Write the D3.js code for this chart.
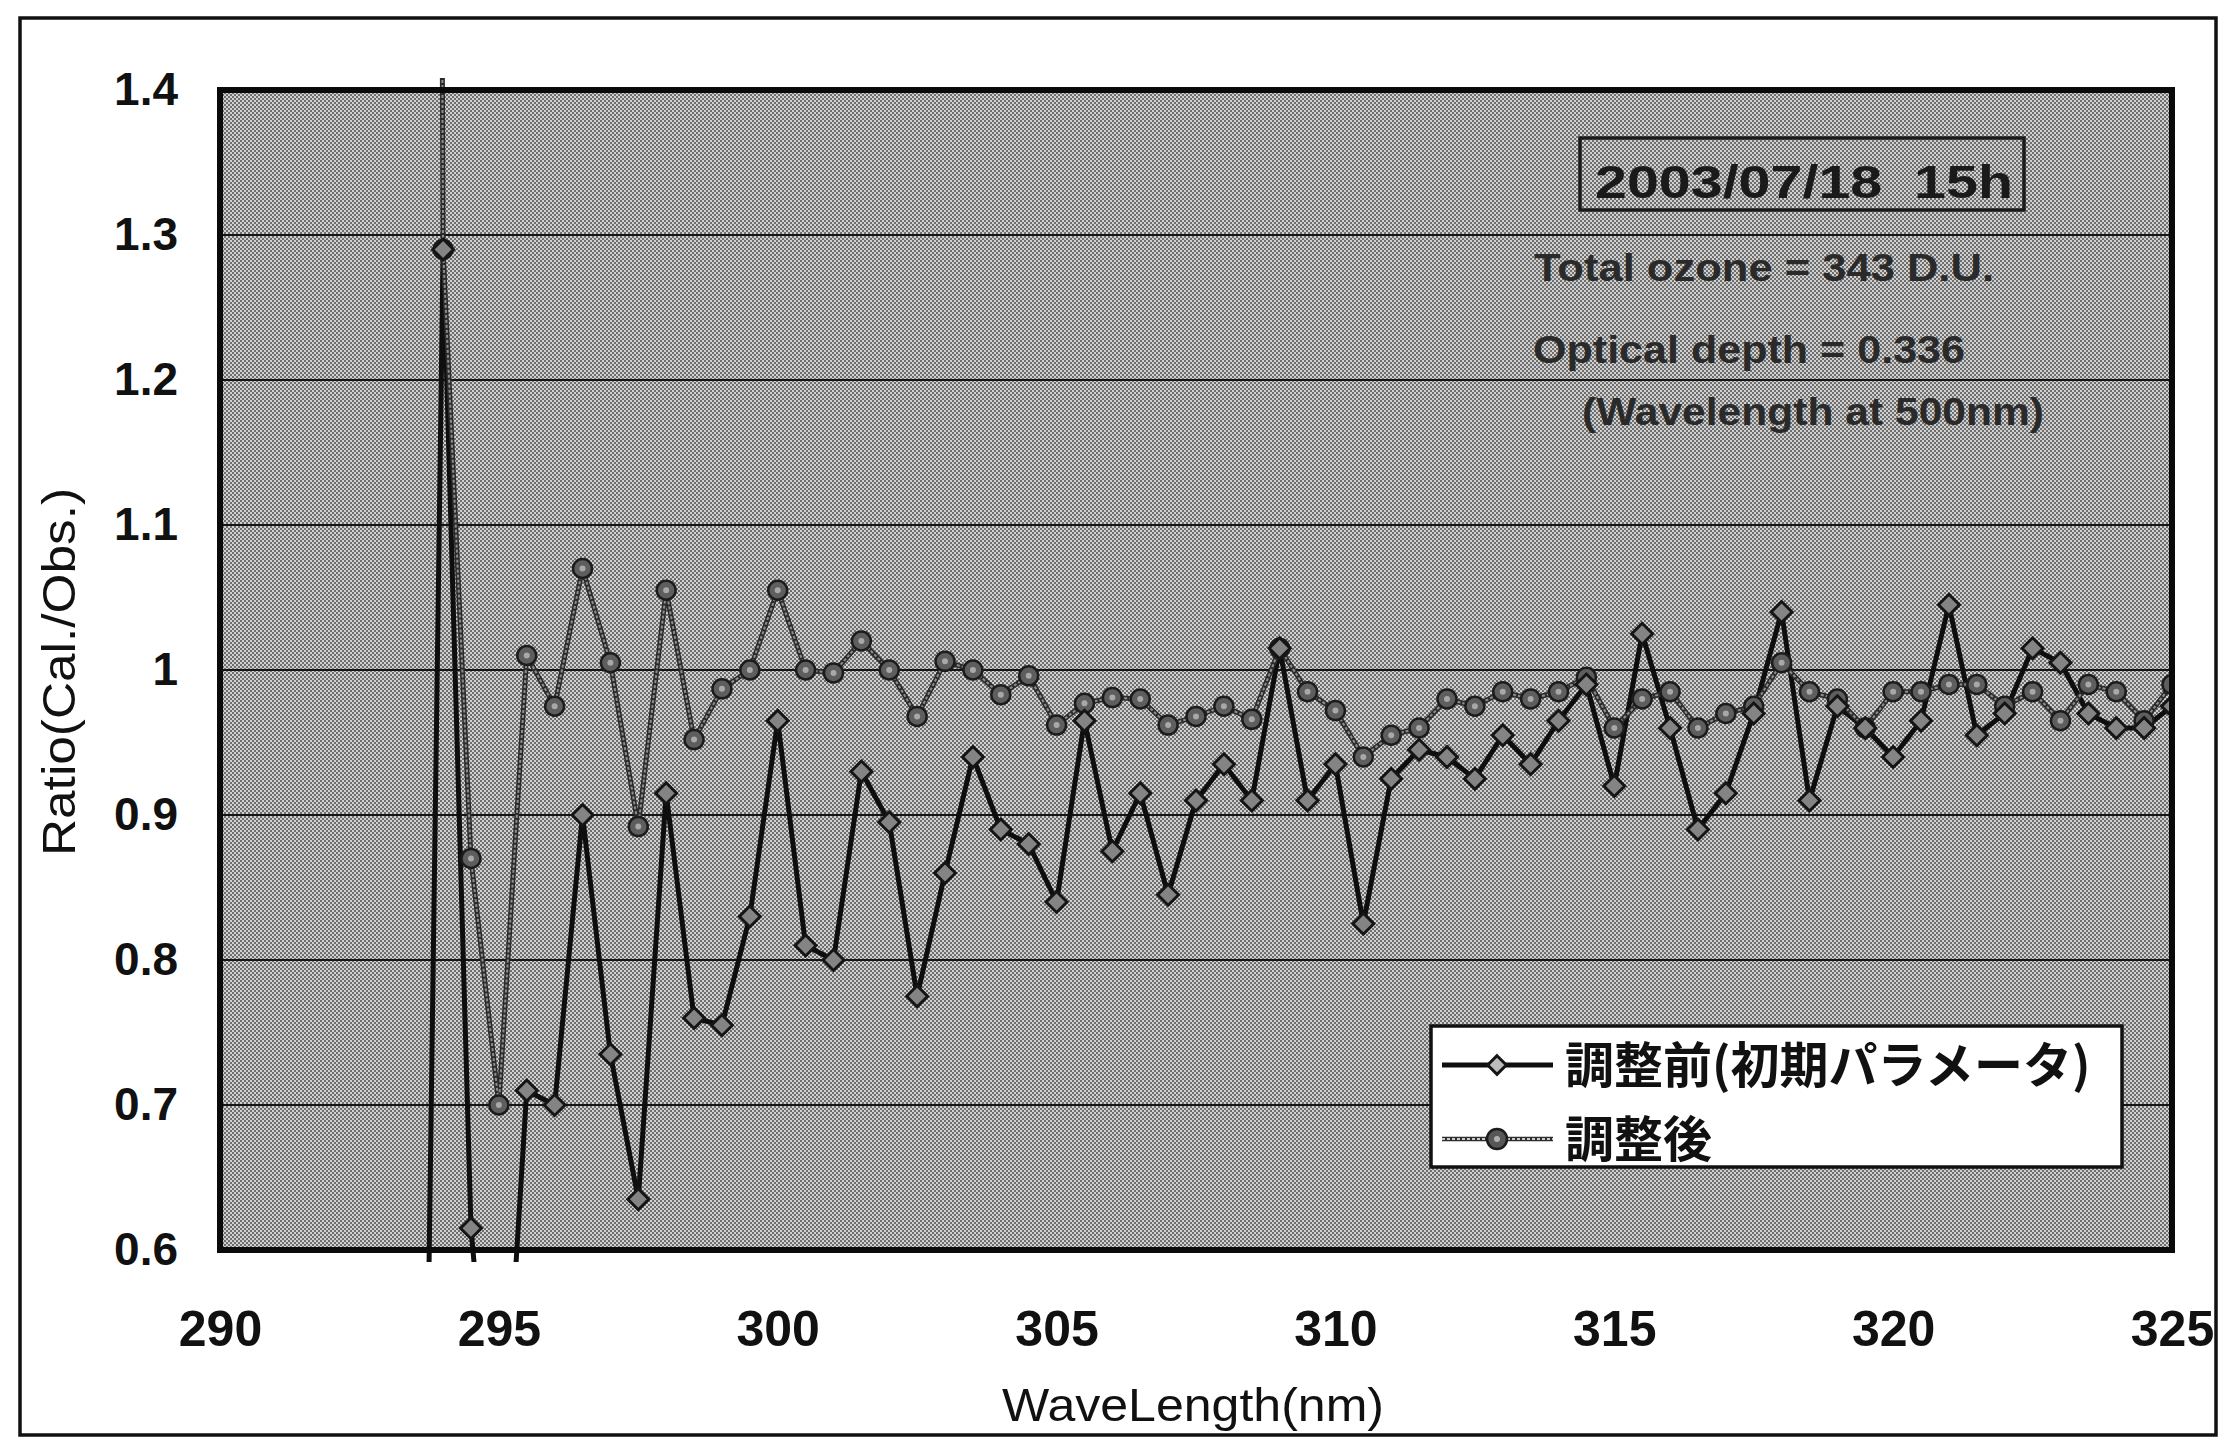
<!DOCTYPE html>
<html>
<head>
<meta charset="utf-8">
<script src="https://cdn.jsdelivr.net/npm/d3@7"></script>
<style>
  html, body { margin: 0; padding: 0; background: #ffffff; }
  svg { display: block; }
</style>
</head>
<body>
<script>
// Spectral ratio (calculated / observed) before and after parameter adjustment
const wavelengths = [
  293.5, 294, 294.5, 295, 295.5, 296, 296.5, 297, 297.5, 298, 298.5, 299, 299.5, 300,
  300.5, 301, 301.5, 302, 302.5, 303, 303.5, 304, 304.5, 305, 305.5, 306, 306.5, 307,
  307.5, 308, 308.5, 309, 309.5, 310, 310.5, 311, 311.5, 312, 312.5, 313, 313.5, 314,
  314.5, 315, 315.5, 316, 316.5, 317, 317.5, 318, 318.5, 319, 319.5, 320, 320.5, 321,
  321.5, 322, 322.5, 323, 323.5, 324, 324.5, 325
];

// 調整前 (initial parameters)
const beforeRatio = [
  -0.10, 1.29, 0.615, 0.40, 0.71, 0.70, 0.90, 0.735, 0.635, 0.915, 0.76, 0.755, 0.83, 0.965,
  0.81, 0.80, 0.93, 0.895, 0.775, 0.86, 0.94, 0.89, 0.88, 0.84, 0.965, 0.875, 0.915, 0.845,
  0.91, 0.935, 0.91, 1.015, 0.91, 0.935, 0.825, 0.925, 0.945, 0.94, 0.925, 0.955, 0.935, 0.965,
  0.99, 0.92, 1.025, 0.96, 0.89, 0.915, 0.97, 1.04, 0.91, 0.975, 0.96, 0.94, 0.965, 1.045,
  0.955, 0.97, 1.015, 1.005, 0.97, 0.96, 0.96, 0.975
];

// 調整後 (adjusted parameters)
const afterRatio = [
  6.0, 1.29, 0.87, 0.70, 1.01, 0.975, 1.07, 1.005, 0.892, 1.055, 0.952, 0.987, 1.0, 1.055,
  1.0, 0.998, 1.02, 1.0, 0.968, 1.006, 1.0, 0.983, 0.996, 0.962, 0.977, 0.981, 0.98, 0.962,
  0.968, 0.975, 0.966, 1.015, 0.985, 0.972, 0.94, 0.955, 0.96, 0.98, 0.975, 0.985, 0.98, 0.985,
  0.995, 0.96, 0.98, 0.985, 0.96, 0.97, 0.975, 1.005, 0.985, 0.98, 0.96, 0.985, 0.985, 0.99,
  0.99, 0.975, 0.985, 0.965, 0.99, 0.985, 0.965, 0.99
];

const xTickValues = [290, 295, 300, 305, 310, 315, 320, 325];
const yTickValues = [0.6, 0.7, 0.8, 0.9, 1.0, 1.1, 1.2, 1.3, 1.4];
const yTickLabels = ["0.6", "0.7", "0.8", "0.9", "1", "1.1", "1.2", "1.3", "1.4"];
const seriesNames = ["調整前(初期パラメータ)", "調整後"];
const stampText = "2003/07/18  15h";
const noteLines = ["Total ozone = 343 D.U.", "Optical depth = 0.336", "(Wavelength at 500nm)"];
const xTitle = "WaveLength(nm)";
const yTitle = "Ratio(Cal./Obs.)";

const W = 2220, H = 1438;
const plot = { left: 220, right: 2172, top: 90, bottom: 1250 };

const svg = d3.select("body").append("svg")
  .attr("width", W).attr("height", H)
  .attr("viewBox", `0 0 ${W} ${H}`);

const defs = svg.append("defs");

// halftone screen used for the plot background
const pat = defs.append("pattern")
  .attr("id", "halftone")
  .attr("width", 4).attr("height", 4)
  .attr("patternUnits", "userSpaceOnUse");
pat.append("rect").attr("width", 4).attr("height", 4).attr("fill", "#d0d0d0");
pat.append("circle").attr("cx", 1).attr("cy", 1).attr("r", 0.95).attr("fill", "#444444");
pat.append("circle").attr("cx", 3).attr("cy", 3).attr("r", 0.95).attr("fill", "#444444");

defs.append("clipPath").attr("id", "plotClip")
  .append("rect")
  .attr("x", plot.left).attr("y", plot.top - 12)
  .attr("width", plot.right - plot.left)
  .attr("height", plot.bottom - plot.top + 24);

const x = d3.scaleLinear().domain([290, 325]).range([plot.left, plot.right]);
const y = d3.scaleLinear().domain([0.6, 1.4]).range([plot.bottom, plot.top]);

// outer frame
svg.append("rect")
  .attr("x", 20).attr("y", 18).attr("width", 2196).attr("height", 1417)
  .attr("fill", "none").attr("stroke", "#111").attr("stroke-width", 3.5);

// plot background
svg.append("rect")
  .attr("x", plot.left).attr("y", plot.top)
  .attr("width", plot.right - plot.left).attr("height", plot.bottom - plot.top)
  .attr("fill", "url(#halftone)");

// horizontal gridlines
svg.append("g").selectAll("line").data(yTickValues).join("line")
  .attr("x1", plot.left).attr("x2", plot.right)
  .attr("y1", d => y(d)).attr("y2", d => y(d))
  .attr("stroke", "#141414").attr("stroke-width", 2.2);

// date stamp and measurement notes
svg.append("rect")
  .attr("x", 1580).attr("y", 138).attr("width", 444).attr("height", 72)
  .attr("fill", "none").attr("stroke", "#1a1a1a").attr("stroke-width", 3.5);
svg.append("text")
  .attr("x", 1595).attr("y", 182).attr("dy", "0.35em")
  .attr("textLength", 418).attr("lengthAdjust", "spacingAndGlyphs")
  .style("white-space", "pre")
  .attr("font-family", "'Liberation Sans', Arial, sans-serif")
  .attr("font-size", 46).attr("font-weight", 700).attr("fill", "#1a1a1a")
  .text(stampText);

const notePos = [
  { x: 1534, y: 268, w: 460 },
  { x: 1533, y: 350, w: 432 },
  { x: 1582, y: 412, w: 462 }
];
svg.append("g").selectAll("text").data(noteLines).join("text")
  .attr("x", (d, i) => notePos[i].x)
  .attr("y", (d, i) => notePos[i].y)
  .attr("dy", "0.35em")
  .attr("textLength", (d, i) => notePos[i].w)
  .attr("lengthAdjust", "spacingAndGlyphs")
  .attr("font-family", "'Liberation Sans', Arial, sans-serif")
  .attr("font-size", 38).attr("font-weight", 700).attr("fill", "#2a2a2a")
  .text(d => d);

// data series
const line = d3.line()
  .x((d, i) => x(wavelengths[i]))
  .y(d => y(d));

const series = svg.append("g").attr("clip-path", "url(#plotClip)");

// 調整前: solid black line
series.append("path")
  .datum(beforeRatio)
  .attr("d", line)
  .attr("fill", "none").attr("stroke", "#0e0e0e").attr("stroke-width", 5)
  .attr("stroke-linejoin", "round");

// 調整後: grey line with dark edges
series.append("path")
  .datum(afterRatio)
  .attr("d", line)
  .attr("fill", "none").attr("stroke", "#2a2a2a").attr("stroke-width", 5)
  .attr("stroke-linejoin", "round");
series.append("path")
  .datum(afterRatio)
  .attr("d", line)
  .attr("fill", "none").attr("stroke", "#8e8e8e").attr("stroke-width", 2)
  .attr("stroke-dasharray", "3,2")
  .attr("stroke-linejoin", "round");

const diamond = d3.symbol().type(d3.symbolDiamond2).size(280);

const inRange = v => v >= 0.6 && v <= 1.4;

const afterPts = afterRatio.map((v, i) => ({ wl: wavelengths[i], v })).filter(d => inRange(d.v));
series.append("g").selectAll("circle")
  .data(afterPts)
  .join("circle")
  .attr("cx", d => x(d.wl)).attr("cy", d => y(d.v)).attr("r", 9.5)
  .attr("fill", "#5e5e5e").attr("stroke", "#1c1c1c").attr("stroke-width", 2.5);
series.append("g").selectAll("circle")
  .data(afterPts)
  .join("circle")
  .attr("cx", d => x(d.wl)).attr("cy", d => y(d.v)).attr("r", 3)
  .attr("fill", "#a8a8a8");

series.append("g").selectAll("path")
  .data(beforeRatio.map((v, i) => ({ wl: wavelengths[i], v })).filter(d => inRange(d.v)))
  .join("path")
  .attr("transform", d => `translate(${x(d.wl)},${y(d.v)})`)
  .attr("d", diamond)
  .attr("fill", "#848484").attr("stroke", "#151515").attr("stroke-width", 3);

// plot border
svg.append("rect")
  .attr("x", plot.left).attr("y", plot.top)
  .attr("width", plot.right - plot.left).attr("height", plot.bottom - plot.top)
  .attr("fill", "none").attr("stroke", "#0a0a0a").attr("stroke-width", 6);

// axes
const yAxis = d3.axisLeft(y)
  .tickValues(yTickValues)
  .tickFormat((d, i) => yTickLabels[i])
  .tickSize(0).tickPadding(42);
svg.append("g")
  .attr("transform", `translate(${plot.left},0)`)
  .call(yAxis)
  .call(g => g.select(".domain").remove())
  .call(g => g.selectAll("text")
    .attr("font-family", "'Liberation Sans', Arial, sans-serif")
    .attr("font-size", 46).attr("font-weight", 700).attr("fill", "#111"));

const xAxis = d3.axisBottom(x)
  .tickValues(xTickValues)
  .tickFormat(d3.format("d"))
  .tickSize(0).tickPadding(60);
svg.append("g")
  .attr("transform", `translate(0,${plot.bottom})`)
  .call(xAxis)
  .call(g => g.select(".domain").remove())
  .call(g => g.selectAll("text")
    .attr("font-family", "'Liberation Sans', Arial, sans-serif")
    .attr("font-size", 50).attr("font-weight", 700).attr("fill", "#111"));

// axis titles
svg.append("text")
  .attr("x", (plot.left + plot.right) / 2 - 3).attr("y", 1405).attr("dy", "0.35em")
  .attr("text-anchor", "middle")
  .attr("textLength", 382).attr("lengthAdjust", "spacingAndGlyphs")
  .attr("font-family", "'Liberation Sans', Arial, sans-serif")
  .attr("font-size", 47).attr("fill", "#111")
  .text(xTitle);

svg.append("text")
  .attr("transform", "translate(59,672) rotate(-90)")
  .attr("dy", "0.35em")
  .attr("text-anchor", "middle")
  .attr("textLength", 368).attr("lengthAdjust", "spacingAndGlyphs")
  .attr("font-family", "'Liberation Sans', Arial, sans-serif")
  .attr("font-size", 46).attr("fill", "#111")
  .text(yTitle);

// legend
const legend = svg.append("g");
legend.append("rect")
  .attr("x", 1431).attr("y", 1026).attr("width", 691).attr("height", 141)
  .attr("fill", "#ffffff").attr("stroke", "#111").attr("stroke-width", 3.5);

const legY = [1065, 1139];
// entry 1
legend.append("line")
  .attr("x1", 1442).attr("x2", 1553).attr("y1", legY[0]).attr("y2", legY[0])
  .attr("stroke", "#0e0e0e").attr("stroke-width", 5);
legend.append("path")
  .attr("transform", `translate(1497,${legY[0]})`)
  .attr("d", d3.symbol().type(d3.symbolDiamond2).size(220))
  .attr("fill", "#bdbdbd").attr("stroke", "#151515").attr("stroke-width", 3);
// entry 2
legend.append("line")
  .attr("x1", 1442).attr("x2", 1553).attr("y1", legY[1]).attr("y2", legY[1])
  .attr("stroke", "#2e2e2e").attr("stroke-width", 4.5);
legend.append("line")
  .attr("x1", 1442).attr("x2", 1553).attr("y1", legY[1]).attr("y2", legY[1])
  .attr("stroke", "#ffffff").attr("stroke-width", 1.6).attr("stroke-dasharray", "3,2");
legend.append("circle")
  .attr("cx", 1497).attr("cy", legY[1]).attr("r", 10)
  .attr("fill", "#575757").attr("stroke", "#1c1c1c").attr("stroke-width", 2.5);
legend.append("circle")
  .attr("cx", 1497).attr("cy", legY[1]).attr("r", 3).attr("fill", "#b0b0b0");

legend.selectAll("text.entry").data(seriesNames).join("text")
  .attr("class", "entry")
  .attr("x", 1565).attr("y", (d, i) => legY[i]).attr("dy", "0.36em")
  .attr("font-family", "'Noto Sans CJK JP', 'Noto Sans CJK SC', sans-serif")
  .attr("font-size", 49).attr("font-weight", 700).attr("fill", "#111")
  .text(d => d);
</script>
</body>
</html>
